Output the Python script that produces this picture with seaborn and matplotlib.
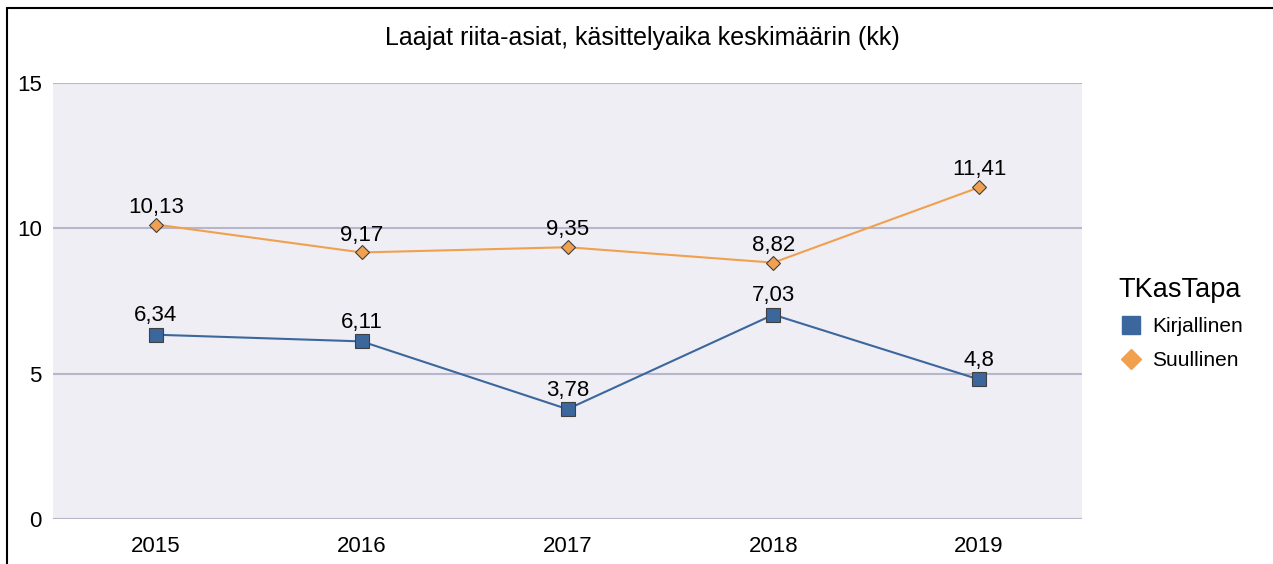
import matplotlib
matplotlib.use("Agg")
import matplotlib.pyplot as plt
import pandas as pd
import seaborn as sns
from matplotlib.lines import Line2D

# Laajat riita-asiat, käsittelyaika keskimäärin (kk)
years = ["2015", "2016", "2017", "2018", "2019"]
kirjallinen = [6.34, 6.11, 3.78, 7.03, 4.8]
suullinen = [10.13, 9.17, 9.35, 8.82, 11.41]
series_names = ["Kirjallinen", "Suullinen"]

df = pd.DataFrame({
    "vuosi": years * 2,
    "kk": kirjallinen + suullinen,
    "TKasTapa": [series_names[0]] * len(years) + [series_names[1]] * len(years),
})
df["x"] = df["vuosi"].map({y: i for i, y in enumerate(years)})

blue = "#3b679c"
orange = "#f0a04e"
palette = {series_names[0]: blue, series_names[1]: orange}

sns.set_style("white")
plt.rcParams["font.family"] = ["Liberation Sans", "DejaVu Sans"]
plt.rcParams["text.color"] = "black"
plt.rcParams["xtick.color"] = "black"
plt.rcParams["ytick.color"] = "black"

fig = plt.figure(figsize=(12.73, 5.64), dpi=100)
ax = fig.add_axes([53 / 1273, 1 - 519 / 564, (1082 - 53) / 1273, (519 - 83) / 564])
ax.set_facecolor("#efeef4")

sns.lineplot(data=df, x="x", y="kk", hue="TKasTapa", style="TKasTapa",
             palette=palette, markers={series_names[0]: "s", series_names[1]: "D"},
             dashes=False, linewidth=1.5, ax=ax, legend=False, zorder=3)
# marker sizes / edges
for line in ax.lines:
    if line.get_marker() == "s":
        line.set_markersize(10)
    else:
        line.set_markersize(7)
    line.set_markeredgecolor("#404040")
    line.set_markeredgewidth(0.8)

for i, v in enumerate(kirjallinen):
    ax.annotate(f"{v:g}".replace(".", ","), (i, v), xytext=(0, 6),
                textcoords="offset points", ha="center", va="bottom", fontsize=16)
for i, v in enumerate(suullinen):
    ax.annotate(f"{v:g}".replace(".", ","), (i, v), xytext=(0, 5),
                textcoords="offset points", ha="center", va="bottom", fontsize=16)

ax.set_xlim(-0.5, len(years) - 0.5)
ax.set_ylim(0, 15)
ax.set_yticks([0, 5, 10, 15])
ax.set_xticks(range(len(years)))
ax.set_xticklabels(years)
ax.tick_params(axis="x", labelsize=16, length=0, pad=12)
ax.tick_params(axis="y", labelsize=16, length=0, pad=8)
ax.set_xlabel("")
ax.set_ylabel("")
ax.grid(axis="y", color="#b6b6cc", linewidth=1.5)
ax.set_axisbelow(True)
for s in ax.spines.values():
    s.set_visible(False)

fig.text(0.505, 1 - 38 / 564, "Laajat riita-asiat, käsittelyaika keskimäärin (kk)",
         ha="center", va="center", fontsize=18)

handles = [
    Line2D([], [], linestyle="none", marker="s", markersize=13, color=blue),
    Line2D([], [], linestyle="none", marker="D", markersize=10, color=orange),
]
leg = fig.legend(handles, series_names, title="TKasTapa", loc="upper left",
                 bbox_to_anchor=(1100 / 1273, 1 - 258 / 564), frameon=False,
                 fontsize=15, title_fontsize=19.5, handletextpad=0.4, labelspacing=0.7,
                 handlelength=1.2)
leg._legend_box.align = "left"

# figure border (left and top visible)
fig.add_artist(Line2D([7 / 1273, 7 / 1273], [0, 1 - 8 / 564], transform=fig.transFigure, color="black", linewidth=1.5))
fig.add_artist(Line2D([7 / 1273, 1], [1 - 8 / 564, 1 - 8 / 564], transform=fig.transFigure, color="black", linewidth=1.5))

fig.savefig("out.png", dpi=100)
